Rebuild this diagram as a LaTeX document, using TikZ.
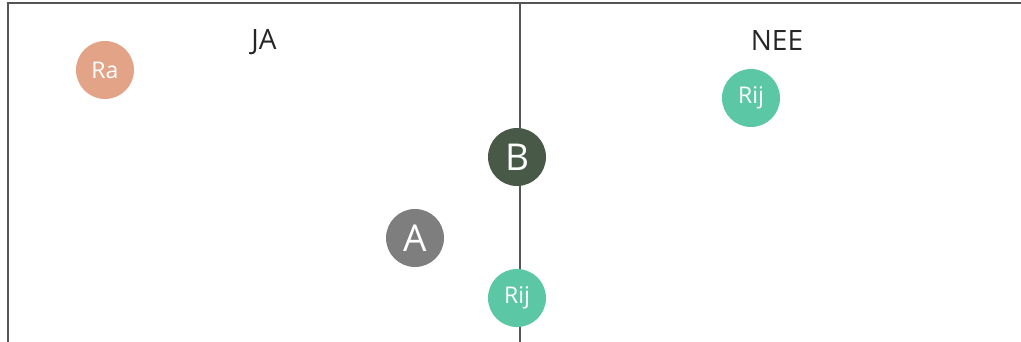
\documentclass[tikz,border=0pt]{standalone}
\usepackage{fontspec}
\setmainfont{Open Sans}
\usepackage{xcolor}
\definecolor{salmon}{HTML}{E2A386}
\definecolor{mint}{HTML}{5CC7A5}
\definecolor{forest}{HTML}{485A47}
\definecolor{stone}{HTML}{7E7E7E}
\definecolor{frame}{HTML}{555555}

\begin{document}
\begin{tikzpicture}[x=1pt,y=-1pt,
  ball/.style={circle, minimum size=58pt, inner sep=0, text=white},
  small/.style={ball, font=\fontsize{23}{23}\selectfont},
  big/.style={ball, font=\fontsize{37}{37}\selectfont},
  side/.style={font=\fontsize{28}{28}\selectfont, text=black!85}]
\useasboundingbox (0,0) rectangle (1021,342);
\draw[frame, line width=1.3pt] (8,342)--(8,3)--(1021,3);
\draw[frame, line width=1.3pt] (520,3)--(520,342);
\node[side] (ja) at (264,42) {JA};
\node[side] (nee) at (777,41) {NEE};
\node[small, fill=salmon] (ra) at (105,70) {Ra};
\node[small, fill=mint] (rijtop) at (751,98) {Rij};
\node[big, fill=forest] (b) at (517,157) {B};
\node[big, fill=stone] (a) at (415,238) {A};
\node[small, fill=mint] (rijbot) at (517,298) {Rij};
\end{tikzpicture}
\end{document}
